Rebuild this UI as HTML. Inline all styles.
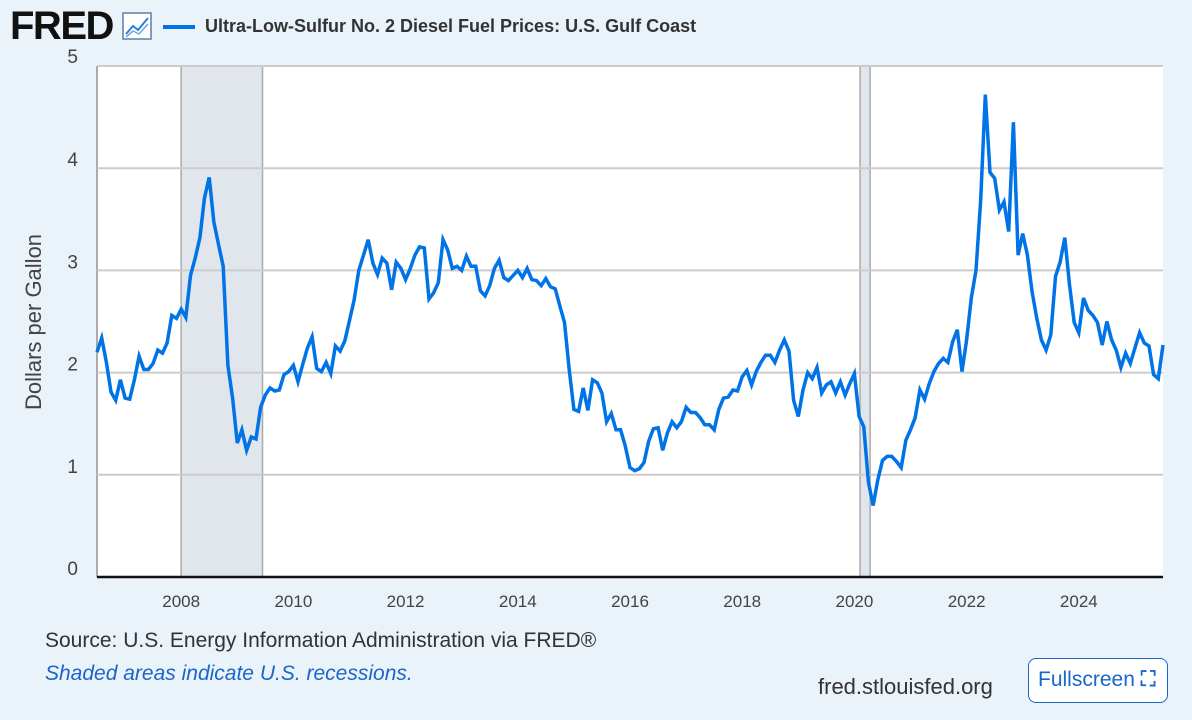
<!DOCTYPE html>
<html><head><meta charset="utf-8">
<style>
body{margin:0;width:1192px;height:720px;background:#eaf2fa;font-family:"Liberation Sans",sans-serif;overflow:hidden;position:relative}
.abs{position:absolute}
</style></head><body>
<div class="abs" style="left:10px;top:4px;font-size:40px;font-weight:900;letter-spacing:-1.5px;color:#111">FRED</div>
<svg class="abs" style="left:122px;top:12px" width="32" height="30"><rect x="1" y="1" width="28" height="26" fill="#fff" stroke="#5b7ea8" stroke-width="1.5"/><polyline points="4,22 11,14 16,18 26,6" fill="none" stroke="#2a7de1" stroke-width="2"/><polyline points="4,25 11,19 17,22 26,12" fill="none" stroke="#6aa6e8" stroke-width="1.5"/></svg>
<div class="abs" style="left:163px;top:16px;font-size:18px;font-weight:bold;color:#333;white-space:nowrap"><span style="display:inline-block;width:32px;height:4px;background:#0073e6;vertical-align:middle;margin-right:10px"></span>Ultra-Low-Sulfur No. 2 Diesel Fuel Prices: U.S. Gulf Coast</div>
<svg id="chart" class="abs" style="left:0;top:0" width="1192" height="620"></svg>
<div class="abs" style="left:45px;top:629px;font-size:21px;color:#333">Source: U.S. Energy Information Administration via FRED®</div>
<div class="abs" style="left:45px;top:662px;font-size:21px;color:#1a66c9;font-style:italic">Shaded areas indicate U.S. recessions.</div>
<div class="abs" style="left:818px;top:674px;font-size:22px;color:#333">fred.stlouisfed.org</div>
<div class="abs" style="left:1028px;top:658px;width:140px;height:45px;box-sizing:border-box;border:1.5px solid #1a66c9;border-radius:8px;background:#fff;color:#1a66c9;font-size:21px;line-height:42px;padding-left:9px;white-space:nowrap">Fullscreen <span style="font-weight:bold">⛶</span></div>
<script>
const startYear = 2006.5;
const values = [2.20,2.34,2.10,1.81,1.73,1.93,1.75,1.74,1.93,2.16,2.03,2.03,2.09,2.22,2.19,2.29,2.56,2.53,2.62,
2.54,2.95,3.12,3.32,3.71,3.91,3.47,3.25,3.04,2.07,1.75,1.31,1.44,1.24,1.37,1.35,1.66,1.78,1.85,1.82,1.83,
1.98,2.01,2.07,1.91,2.08,2.24,2.35,2.04,2.01,2.10,1.99,2.26,2.21,2.31,2.51,2.71,3.00,3.15,3.30,3.07,2.96,
3.12,3.07,2.81,3.08,3.02,2.91,3.02,3.15,3.23,3.22,2.72,2.78,2.88,3.30,3.20,3.02,3.04,3.00,3.14,3.04,3.04,
2.80,2.75,2.85,3.02,3.10,2.93,2.90,2.95,3.00,2.93,3.02,2.91,2.90,2.85,2.92,2.84,2.82,2.65,2.49,2.03,
1.64,1.62,1.85,1.63,1.93,1.90,1.80,1.52,1.60,1.44,1.44,1.28,1.07,1.04,1.06,1.12,1.33,1.45,1.46,1.24,
1.41,1.52,1.46,1.52,1.66,1.61,1.61,1.56,1.49,1.49,1.44,1.64,1.75,1.76,1.83,1.82,1.96,2.02,1.88,2.01,
2.10,2.17,2.17,2.10,2.22,2.32,2.21,1.73,1.57,1.83,2.00,1.94,2.05,1.80,1.88,1.91,1.80,1.91,1.78,1.89,
1.99,1.57,1.47,0.93,0.70,0.95,1.14,1.18,1.18,1.13,1.07,1.34,1.44,1.56,1.83,1.74,1.89,2.01,2.09,2.14,
2.10,2.30,2.42,2.01,2.32,2.73,3.00,3.69,4.72,3.96,3.90,3.59,3.67,3.38,4.45,3.15,3.36,3.15,2.79,2.53,
2.32,2.22,2.37,2.94,3.08,3.32,2.86,2.49,2.39,2.73,2.61,2.56,2.49,2.27,2.50,2.32,2.22,2.05,2.19,2.09,
2.24,2.39,2.29,2.26,1.98,1.94,2.27];
const yTicks = [0,1,2,3,4,5];
const xTicks = [2008,2010,2012,2014,2016,2018,2020,2022,2024];
const recessions = [[2008.0,2009.45],[2020.1,2020.28]];

const L=97,R=1163,T=66,B=577,x0=2006.5,x1=2025.5,ymax=5;
const X=v=>L+(v-x0)/(x1-x0)*(R-L);
const Y=v=>B-v/ymax*(B-T);
const svg=document.getElementById('chart');
const NS='http://www.w3.org/2000/svg';
function mk(tag,a){const e=document.createElementNS(NS,tag);for(const k in a)e.setAttribute(k,a[k]);svg.appendChild(e);return e;}
const bg=mk('rect',{x:L,y:T,width:R-L,height:B-T,fill:'#fff'});


recessions.forEach(r=>{
  const e=mk('rect',{x:X(r[0]),y:T,width:X(r[1])-X(r[0]),height:B-T,fill:'#e1e6ec',stroke:'#aaa','stroke-width':1.5});
  
  
});
const la=mk('line',{x1:L,x2:L,y1:T,y2:B,stroke:'#aaa','stroke-width':2});


yTicks.forEach(t=>{
  if(t>0){const g=mk('line',{x1:L,x2:R,y1:Y(t),y2:Y(t),stroke:'#ccc','stroke-width':2});
  
  }
  const tx=mk('text',{x:78,y:Y(t)+(t==5?-3:-2),'text-anchor':'end','font-size':19,fill:'#444','font-family':'Liberation Sans'});
  tx.textContent=t;
  
  
});
const ax=mk('line',{x1:L,x2:R,y1:B,y2:B,stroke:'#111','stroke-width':2.5});


xTicks.forEach(t=>{
  const tx=mk('text',{x:X(t),y:607,'text-anchor':'middle','font-size':17,fill:'#444','font-family':'Liberation Sans'});
  tx.textContent=t;
  
  
});
const yt=mk('text',{x:0,y:0,transform:'translate(41,322) rotate(-90)','text-anchor':'middle','font-size':22,fill:'#444','font-family':'Liberation Sans'});
yt.textContent='Dollars per Gallon';


const pts=values.map((v,i)=>X(startYear+i/12).toFixed(1)+','+Y(v).toFixed(1)).join(' ');
const ln=mk('polyline',{points:pts,fill:'none',stroke:'#0073e6','stroke-width':3.5,'stroke-linejoin':'miter'});


</script>
</body></html>
